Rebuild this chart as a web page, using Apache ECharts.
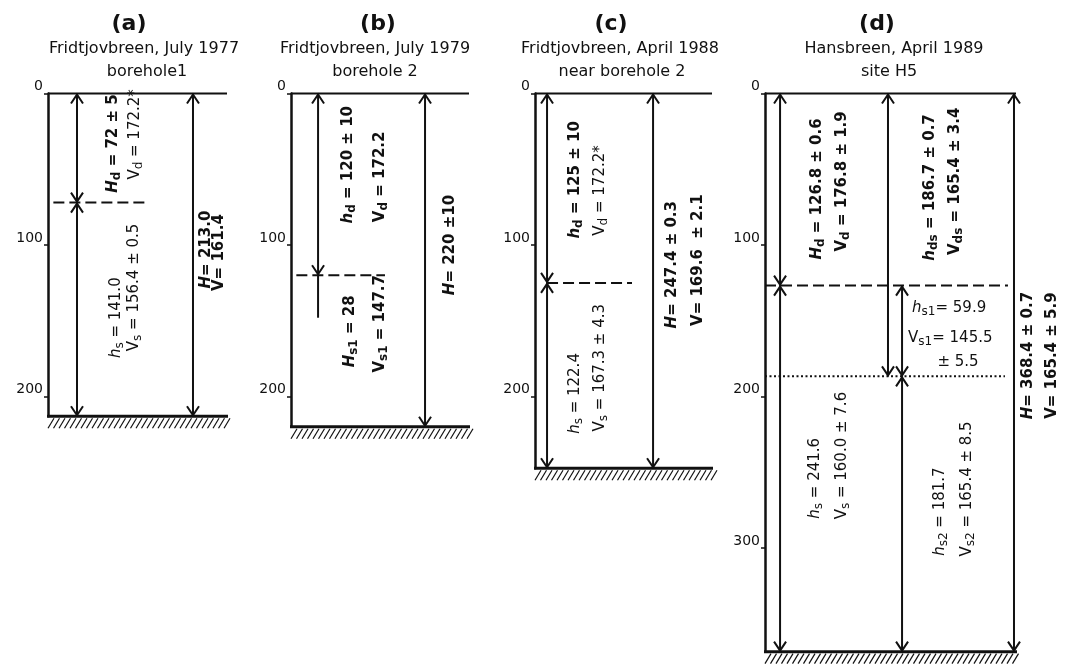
<!DOCTYPE html>
<html>
<head>
<meta charset="utf-8">
<script src="https://cdn.jsdelivr.net/npm/echarts@6/dist/echarts.min.js"></script>
<style>
  html, body { margin: 0; padding: 0; background: #fff; }
  #main { width: 1065px; height: 664px; }
</style>
</head>
<body>
<div id="main"></div>
<script>
// ---- Panel headings ----
const panelLetters = ['(a)', '(b)', '(c)', '(d)'];
const siteNames = ['Fridtjovbreen, July 1977', 'Fridtjovbreen, July 1979', 'Fridtjovbreen, April 1988', 'Hansbreen, April 1989'];
const siteNotes = ['borehole1', 'borehole 2', 'near borehole 2', 'site H5'];
const depthTicks = [0, 100, 200, 300];

// ---- Total ice thickness H (m) and mean velocity V (m/µs) ----
const H = ['213.0', '220', '247.4', '368.4'];
const H_err = ['', '10', '0.3', '0.7'];
const V = ['161.4', '', '169.6', '165.4'];
const V_err = ['', '', '2.1', '5.9'];

// ---- Upper (cold) layer ----
const Hd = ['72', '120', '125', '126.8'];
const Hd_err = ['5', '10', '10', '0.6'];
const Vd = ['172.2*', '172.2', '172.2*', '176.8'];
const Vd_err = ['', '', '', '1.9'];

// ---- Lower (temperate) layer ----
const Hs = ['141.0', '28', '122.4', '241.6'];
const Vs = ['156.4', '147.7', '167.3', '160.0'];
const Vs_err = ['0.5', '', '4.3', '7.6'];

// ---- Site H5 sub-layers ----
const Hds = ['186.7', '0.7'];
const Vds = ['165.4', '3.4'];
const Hs1 = ['59.9'];
const Vs1 = ['145.5', '5.5'];
const Hs2 = ['181.7'];
const Vs2 = ['165.4', '8.5'];

// ---- Layout ----
const panelLeft = [48, 291, 535, 765];
const panelWidth = [179, 178, 177, 251];
const plotTop = 93.5;
const pxPerMetre = 1.515;
const letterX = [129, 378, 611, 877];
const nameX = [144, 375, 620, 894];
const noteX = [147, 375, 622, 889];

const FONT = 'DejaVu Sans';
const INK = '#111';
const num = Number.parseFloat;

const RICH = {
  v:  { fontFamily: FONT, fontSize: 15, lineHeight: 20, fill: INK },
  vi: { fontFamily: FONT, fontSize: 15, lineHeight: 20, fill: INK, fontStyle: 'italic' },
  s:  { fontFamily: FONT, fontSize: 12, lineHeight: 10, fill: INK, verticalAlign: 'bottom' },
  n:  { fontFamily: FONT, fontSize: 15, lineHeight: 20, fill: INK },
  bv:  { fontFamily: FONT, fontSize: 15, lineHeight: 20, fill: INK, fontWeight: 'bold' },
  bvi: { fontFamily: FONT, fontSize: 15, lineHeight: 20, fill: INK, fontWeight: 'bold', fontStyle: 'italic' },
  bs:  { fontFamily: FONT, fontSize: 12, lineHeight: 10, fill: INK, fontWeight: 'bold', verticalAlign: 'bottom' },
  bn:  { fontFamily: FONT, fontSize: 15, lineHeight: 20, fill: INK, fontWeight: 'bold' }
};

function richText(l) {
  const p = l.bold ? 'b' : '';
  let t = '';
  if (l.sym) t += '{' + p + (l.it ? 'vi' : 'v') + '|' + l.sym + '}';
  if (l.sub) t += '{' + p + 's|' + l.sub + '}';
  t += '{' + p + 'n|' + l.rest + '}';
  return t;
}

const pm = (v, e) => (e ? v + ' ± ' + e : v);

// Marks for each panel: ice surface, bed, layer boundaries, thickness arrows, annotations
function panelShapes(i) {
  const tot = num(H[i]);
  const d1 = num(Hd[i]);
  const list = [
    { kind: 'surface' },
    { kind: 'bed', depth: tot }
  ];
  const arrow = (x, from, to, top, bottom) => list.push({ kind: 'arrow', x, from, to, top, bottom });
  const level = (x1, x2, depth, dash) => list.push({ kind: 'level', x1, x2, depth, dash });
  const label = (o) => list.push(Object.assign({ kind: 'label' }, o));

  if (i === 0) {
    level(0.03, 0.54, d1, [11, 5]);
    arrow(0.162, 0, d1, true, true);
    arrow(0.162, d1, d1 + num(Hs[0]), true, true);
    arrow(0.81, 0, tot, true, true);
    label({ x: 0.363, d: 33, sym: 'H', sub: 'd', it: true, bold: true, rest: ' = ' + pm(Hd[0], Hd_err[0]) });
    label({ x: 0.486, d: 27, sym: 'V', sub: 'd', rest: ' = ' + Vd[0] });
    label({ x: 0.38, d: 148, sym: 'h', sub: 's', it: true, rest: ' = ' + Hs[0] });
    label({ x: 0.48, d: 128, sym: 'V', sub: 's', rest: ' = ' + pm(Vs[0], Vs_err[0]) });
    label({ x: 0.883, d: 103, sym: 'H', it: true, bold: true, rest: '= ' + H[0] });
    label({ x: 0.955, d: 105, sym: 'V', bold: true, rest: '= ' + V[0] });
  } else if (i === 1) {
    level(0.03, 0.528, d1, [11, 5]);
    arrow(0.152, 0, d1, true, true);
    arrow(0.152, d1, d1 + num(Hs[1]), false, false);
    arrow(0.753, 0, tot, true, true);
    label({ x: 0.32, d: 47, sym: 'h', sub: 'd', it: true, bold: true, rest: ' = ' + pm(Hd[1], Hd_err[1]) });
    label({ x: 0.5, d: 55, sym: 'V', sub: 'd', bold: true, rest: ' = ' + Vd[1] });
    label({ x: 0.331, d: 157, sym: 'H', sub: 's1', it: true, bold: true, rest: ' = ' + Hs[1] });
    label({ x: 0.5, d: 152, sym: 'V', sub: 's1', bold: true, rest: ' = ' + Vs[1] });
    label({ x: 0.893, d: 100, sym: 'H', it: true, bold: true, rest: '= ' + H[1] + ' ±' + H_err[1] });
  } else if (i === 2) {
    level(0.068, 0.548, d1, [11, 5]);
    arrow(0.068, 0, d1, true, true);
    arrow(0.068, d1, d1 + num(Hs[2]), true, true);
    arrow(0.667, 0, tot, true, true);
    label({ x: 0.226, d: 57, sym: 'h', sub: 'd', it: true, bold: true, rest: ' = ' + pm(Hd[2], Hd_err[2]) });
    label({ x: 0.367, d: 64, sym: 'V', sub: 'd', rest: ' = ' + Vd[2] });
    label({ x: 0.226, d: 198, sym: 'h', sub: 's', it: true, rest: ' = ' + Hs[2] });
    label({ x: 0.367, d: 181, sym: 'V', sub: 's', rest: ' = ' + pm(Vs[2], Vs_err[2]) });
    label({ x: 0.774, d: 113, sym: 'H', it: true, bold: true, rest: '= ' + pm(H[2], H_err[2]) });
    label({ x: 0.921, d: 110, sym: 'V', bold: true, rest: '= ' + V[2] + '  ± ' + V_err[2] });
  } else {
    const dds = num(Hds[0]);
    level(0.0, 0.968, d1, [11, 5]);
    level(0.0, 0.956, dds, [2, 2.5]);
    arrow(0.06, 0, d1, true, true);
    arrow(0.06, d1, d1 + num(Hs[3]), true, true);
    arrow(0.49, 0, dds, true, true);
    arrow(0.546, d1, d1 + num(Hs1[0]), true, true);
    arrow(0.546, dds, dds + num(Hs2[0]), true, true);
    arrow(0.992, 0, tot, true, true);
    label({ x: 0.207, d: 63, sym: 'H', sub: 'd', it: true, bold: true, rest: ' = ' + pm(Hd[3], Hd_err[3]) });
    label({ x: 0.307, d: 58, sym: 'V', sub: 'd', bold: true, rest: ' = ' + pm(Vd[3], Vd_err[3]) });
    label({ x: 0.657, d: 62, sym: 'h', sub: 'ds', it: true, bold: true, rest: ' = ' + pm(Hds[0], Hds[1]) });
    label({ x: 0.757, d: 58, sym: 'V', sub: 'ds', bold: true, rest: ' = ' + pm(Vds[0], Vds[1]) });
    label({ x: 0.586, d: 141.6, flat: true, align: 'left', sym: 'h', sub: 's1', it: true, rest: '= ' + Hs1[0] });
    label({ x: 0.57, d: 161.4, flat: true, align: 'left', sym: 'V', sub: 's1', rest: '= ' + Vs1[0] });
    label({ x: 0.769, d: 177.2, flat: true, rest: '± ' + Vs1[1] });
    label({ x: 0.2, d: 254, sym: 'h', sub: 's', it: true, rest: ' = ' + Hs[3] });
    label({ x: 0.307, d: 239, sym: 'V', sub: 's', rest: ' = ' + pm(Vs[3], Vs_err[3]) });
    label({ x: 0.697, d: 276, sym: 'h', sub: 's2', it: true, rest: ' = ' + Hs2[0] });
    label({ x: 0.805, d: 261, sym: 'V', sub: 's2', rest: ' = ' + pm(Vs2[0], Vs2[1]) });
    label({ x: 1.048, d: 173, sym: 'H', it: true, bold: true, rest: '= ' + pm(H[3], H_err[3]) });
    label({ x: 1.143, d: 173, sym: 'V', bold: true, rest: '= ' + pm(V[3], V_err[3]) });
  }
  return list;
}

function makeRender(list) {
  return function (params, api) {
    const s = list[params.dataIndex];
    const P = (x, d) => api.coord([x, d]);
    if (s.kind === 'surface') {
      const a = P(0, 0), b = P(1, 0);
      return { type: 'line', shape: { x1: a[0], y1: a[1], x2: b[0], y2: b[1] }, style: { stroke: INK, lineWidth: 2.2 } };
    }
    if (s.kind === 'bed') {
      const a = P(0, s.depth), b = P(1, s.depth);
      const kids = [{ type: 'line', shape: { x1: a[0] - 1, y1: a[1], x2: b[0] + 1, y2: b[1] }, style: { stroke: INK, lineWidth: 3 } }];
      for (let hx = a[0] + 6; hx <= b[0] + 5; hx += 5.5) {
        kids.push({ type: 'line', shape: { x1: hx, y1: a[1] + 2, x2: hx - 6, y2: a[1] + 12 }, style: { stroke: INK, lineWidth: 1.2 } });
      }
      return { type: 'group', children: kids };
    }
    if (s.kind === 'level') {
      const a = P(s.x1, s.depth), b = P(s.x2, s.depth);
      return { type: 'line', shape: { x1: a[0], y1: a[1], x2: b[0], y2: b[1] }, style: { stroke: INK, lineWidth: 2, lineDash: s.dash } };
    }
    if (s.kind === 'arrow') {
      const a = P(s.x, s.from), b = P(s.x, s.to);
      const x = a[0];
      const kids = [{ type: 'line', shape: { x1: x, y1: a[1], x2: x, y2: b[1] }, style: { stroke: INK, lineWidth: 2 } }];
      if (s.top) kids.push({ type: 'polyline', shape: { points: [[x - 6, a[1] + 10], [x, a[1] + 1], [x + 6, a[1] + 10]] }, style: { stroke: INK, lineWidth: 2, fill: 'none' } });
      if (s.bottom) kids.push({ type: 'polyline', shape: { points: [[x - 6, b[1] - 10], [x, b[1] - 1], [x + 6, b[1] - 10]] }, style: { stroke: INK, lineWidth: 2, fill: 'none' } });
      return { type: 'group', children: kids };
    }
    if (s.kind === 'label') {
      const a = P(s.x, s.d);
      return {
        type: 'text', x: a[0], y: a[1], rotation: s.flat ? 0 : Math.PI / 2,
        style: { text: richText(s), rich: RICH, align: s.align || 'center', verticalAlign: 'middle', fill: INK }
      };
    }
    return null;
  };
}

const grids = [], xAxes = [], yAxes = [], series = [], texts = [];
for (let i = 0; i < 4; i++) {
  const tot = num(H[i]);
  const ticks = depthTicks.filter(t => t <= tot);
  grids.push({ left: panelLeft[i], top: plotTop, width: panelWidth[i], height: tot * pxPerMetre });
  xAxes.push({ type: 'value', gridIndex: i, min: 0, max: 1, show: false });
  yAxes.push({
    type: 'value', gridIndex: i, min: 0, max: tot, inverse: true,
    splitLine: { show: false },
    axisLine: { show: true, lineStyle: { color: INK, width: 2.5 } },
    axisTick: { show: true, length: 4, customValues: ticks, lineStyle: { color: INK, width: 1.5 } },
    axisLabel: { customValues: ticks, color: INK, fontFamily: FONT, fontSize: 14, margin: 5, verticalAlign: 'bottom' }
  });
  const list = panelShapes(i);
  series.push({
    type: 'custom', xAxisIndex: i, yAxisIndex: i, clip: false, silent: true,
    data: list.map(() => [0, 0]),
    renderItem: makeRender(list)
  });
  texts.push({ type: 'text', x: letterX[i], y: 24, style: { text: panelLetters[i], font: 'bold 22px "' + FONT + '"', fill: INK, align: 'center', verticalAlign: 'middle' } });
  texts.push({ type: 'text', x: nameX[i], y: 49, style: { text: siteNames[i], font: '16px "' + FONT + '"', fill: INK, align: 'center', verticalAlign: 'middle' } });
  texts.push({ type: 'text', x: noteX[i], y: 72, style: { text: siteNotes[i], font: '16px "' + FONT + '"', fill: INK, align: 'center', verticalAlign: 'middle' } });
}

const chart = echarts.init(document.getElementById('main'), null, { renderer: 'canvas' });
chart.setOption({
  animation: false,
  backgroundColor: '#fff',
  grid: grids,
  xAxis: xAxes,
  yAxis: yAxes,
  series: series,
  graphic: { elements: texts }
});
</script>
</body>
</html>
